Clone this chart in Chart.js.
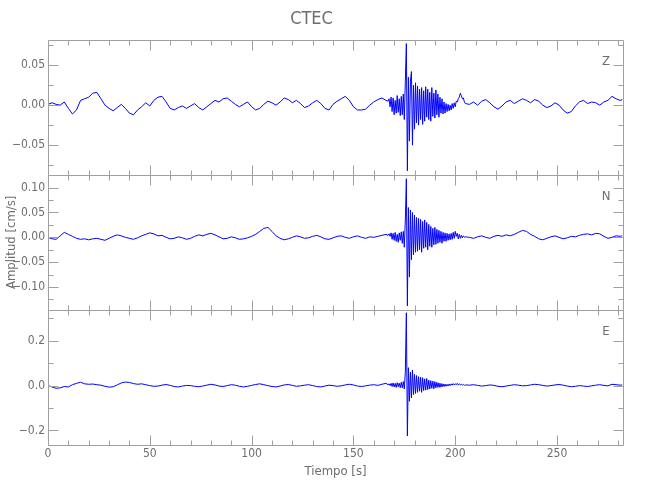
<!DOCTYPE html>
<html>
<head>
<meta charset="utf-8">
<script src="https://cdn.jsdelivr.net/npm/chart.js@4"></script>
<style>
  html, body { margin: 0; background: #fff; }
  #wrap { width: 650px; height: 500px; }
</style>
</head>
<body>
<div id="wrap"><canvas id="sismo"></canvas></div>
<script>
// tiempo [s]: cada 2 s antes y despues del evento, cada 0.5 s durante el evento
const tiempo = [
  0, 2, 4, 6, 8, 10, 12, 14, 16, 18,
  20, 22, 24, 26, 28, 30, 32, 34, 36, 38,
  40, 42, 44, 46, 48, 50, 52, 54, 56, 58,
  60, 62, 64, 66, 68, 70, 72, 74, 76, 78,
  80, 82, 84, 86, 88, 90, 92, 94, 96, 98,
  100, 102, 104, 106, 108, 110, 112, 114, 116, 118,
  120, 122, 124, 126, 128, 130, 132, 134, 136, 138,
  140, 142, 144, 146, 148, 150, 152, 154, 156, 158,
  160, 162, 164, 166,
  167, 167.5, 168, 168.5, 169, 169.5, 170, 170.5, 171, 171.5,
  172, 172.5, 173, 173.5, 174, 174.5, 175, 175.5, 176, 176.5,
  177, 177.5, 178, 178.5, 179, 179.5, 180, 180.5, 181, 181.5,
  182, 182.5, 183, 183.5, 184, 184.5, 185, 185.5, 186, 186.5,
  187, 187.5, 188, 188.5, 189, 189.5, 190, 190.5, 191, 191.5,
  192, 192.5, 193, 193.5, 194, 194.5, 195, 195.5, 196, 196.5,
  197, 197.5, 198, 198.5, 199, 199.5, 200, 200.5, 201, 201.5,
  202, 202.5, 203, 203.5, 204, 204.5, 205,
  207, 209, 211, 213, 215, 217, 219, 221, 223, 225,
  227, 229, 231, 233, 235, 237, 239, 241, 243, 245,
  247, 249, 251, 253, 255, 257, 259, 261, 263, 265,
  267, 269, 271, 273, 275, 277, 279, 281,
  282
];

// componente vertical Z [cm/s]
const compZ = [
  0.001, 0.003, 0.001, 0.000, 0.004, -0.004, -0.011, -0.006, 0.006, 0.008,
  0.010, 0.015, 0.016, 0.008, 0.000, -0.004, -0.007, -0.003, 0.001, -0.004,
  -0.010, -0.012, -0.006, -0.002, 0.003, -0.001, 0.006, 0.010, 0.011, 0.004,
  -0.004, -0.006, -0.003, -0.001, -0.004, -0.001, 0.002, -0.003, -0.006, -0.002,
  0.002, 0.006, 0.004, 0.008, 0.009, 0.005, 0.001, -0.002, 0.001, 0.004,
  -0.002, -0.006, -0.004, 0.001, 0.005, 0.003, 0.000, 0.004, 0.009, 0.007,
  0.003, 0.006, 0.002, -0.003, -0.001, 0.003, 0.006, 0.002, -0.004, -0.006,
  0.001, 0.005, 0.008, 0.011, 0.006, -0.002, -0.006, -0.006, -0.005, 0.000,
  0.004, 0.007, 0.009, 0.006,
  0.005, 0.008, -0.002, 0.010, -0.008, 0.009, -0.012, 0.006, -0.010, 0.012,
  -0.009, 0.008, -0.013, 0.011, -0.012, 0.014, -0.018, 0.030, 0.077, -0.082,
  0.035, -0.045, 0.030, 0.042, -0.050, 0.025, -0.030, 0.028, -0.022, 0.024,
  -0.025, 0.020, -0.018, 0.022, -0.024, 0.018, -0.020, 0.023, -0.015, 0.020,
  -0.018, 0.016, -0.020, 0.022, -0.014, 0.015, -0.016, 0.019, -0.012, 0.014,
  -0.015, 0.010, -0.010, 0.008, -0.011, 0.004, -0.010, 0.002, -0.008, 0.001,
  -0.007, 0.000, -0.006, 0.002, -0.004, 0.003, -0.002, 0.005, 0.004, 0.008,
  0.010, 0.015, 0.012, 0.008, 0.009, 0.004, 0.002,
  0.001, 0.004, 0.000, 0.005, 0.007, 0.003, -0.002, -0.005, -0.001, 0.004,
  0.006, 0.002, 0.005, 0.008, 0.006, 0.003, 0.007, 0.005, 0.000, -0.003,
  -0.001, 0.003, 0.000, -0.006, -0.010, -0.008, -0.001, 0.004, 0.006, 0.002,
  0.004, 0.003, 0.000, 0.004, 0.006, 0.011, 0.008, 0.006,
  0.007
];

// componente norte N [cm/s]
const compN = [
  0.000, -0.003, -0.004, 0.003, 0.010, 0.006, 0.002, -0.002, -0.004, -0.003,
  -0.005, -0.003, -0.002, -0.004, -0.006, -0.002, 0.002, 0.005, 0.003, 0.000,
  -0.002, -0.004, -0.001, 0.003, 0.006, 0.009, 0.007, 0.003, 0.004, 0.000,
  -0.003, -0.002, 0.001, -0.001, -0.004, -0.002, 0.002, 0.005, 0.003, 0.006,
  0.008, 0.005, 0.001, -0.003, -0.002, 0.001, -0.001, -0.004, -0.003, -0.001,
  0.002, 0.006, 0.012, 0.018, 0.020, 0.012, 0.003, -0.002, -0.005, -0.003,
  0.000, 0.003, 0.001, -0.002, -0.001, 0.002, 0.004, 0.001, -0.003, -0.004,
  -0.001, 0.002, 0.003, 0.000, -0.002, 0.001, 0.003, 0.000, -0.002, 0.001,
  0.000, 0.002, 0.004, 0.006,
  0.004, 0.007, 0.002, 0.009, -0.004, 0.008, -0.006, 0.010, -0.008, 0.006,
  -0.010, 0.009, -0.006, 0.011, -0.012, 0.012, -0.020, 0.035, 0.118, -0.138,
  0.060, -0.080, 0.055, -0.045, 0.050, -0.035, 0.045, -0.030, 0.040, -0.028,
  0.038, -0.025, 0.036, -0.030, 0.032, -0.022, 0.035, -0.020, 0.030, -0.025,
  0.026, -0.018, 0.022, -0.020, 0.018, -0.015, 0.020, -0.014, 0.016, -0.012,
  0.014, -0.010, 0.012, -0.012, 0.010, -0.008, 0.009, -0.008, 0.008, -0.006,
  0.007, -0.005, 0.008, -0.004, 0.010, -0.002, 0.012, 0.002, 0.008, -0.003,
  0.006, -0.002, 0.004, -0.001, 0.003, 0.000, 0.001,
  0.000, -0.002, 0.001, 0.003, 0.000, -0.002, 0.002, 0.004, 0.002, 0.005,
  0.003, 0.006, 0.010, 0.014, 0.012, 0.006, 0.002, -0.003, -0.005, -0.002,
  0.001, 0.003, 0.000, -0.003, -0.001, 0.002, 0.001, 0.004, 0.006, 0.007,
  0.005, 0.008, 0.007, 0.002, -0.002, 0.000, 0.003, 0.002,
  0.003
];

// componente este E [cm/s]
const compE = [
  0.000, -0.006, -0.012, -0.010, -0.004, -0.006, 0.004, 0.010, 0.015, 0.008,
  0.006, 0.007, 0.004, 0.002, -0.003, -0.007, -0.005, 0.003, 0.012, 0.016,
  0.014, 0.009, 0.006, 0.008, 0.004, 0.000, -0.003, -0.002, 0.002, 0.005,
  0.001, -0.004, -0.006, -0.002, 0.001, 0.000, -0.003, -0.005, -0.002, 0.002,
  0.006, 0.003, -0.002, -0.004, 0.000, 0.004, 0.002, -0.003, -0.006, -0.003,
  0.001, 0.005, 0.008, 0.004, 0.000, -0.004, -0.006, -0.002, 0.003, 0.005,
  0.001, -0.003, -0.001, 0.002, 0.004, 0.000, -0.004, -0.006, -0.002, 0.002,
  0.000, -0.003, -0.001, 0.003, 0.006, 0.003, -0.002, -0.004, -0.001, 0.002,
  0.004, 0.001, 0.006, 0.010,
  0.004, 0.008, 0.000, 0.010, -0.004, 0.012, -0.006, 0.010, -0.008, 0.013,
  -0.005, 0.011, -0.009, 0.015, -0.010, 0.018, -0.015, 0.060, 0.325, -0.225,
  0.080, -0.070, 0.060, -0.055, 0.070, -0.040, 0.050, -0.035, 0.045, -0.030,
  0.040, -0.025, 0.038, -0.030, 0.035, -0.022, 0.030, -0.020, 0.032, -0.018,
  0.025, -0.015, 0.022, -0.012, 0.020, -0.014, 0.018, -0.010, 0.015, -0.008,
  0.012, -0.008, 0.010, -0.006, 0.008, -0.004, 0.007, -0.003, 0.006, -0.002,
  0.007, 0.000, 0.008, 0.002, 0.009, 0.003, 0.008, 0.004, 0.010, 0.003,
  0.007, 0.004, 0.006, 0.002, 0.005, 0.001, 0.003,
  0.002, 0.004, 0.001, -0.002, 0.000, 0.003, 0.001, -0.003, -0.005, -0.002,
  0.001, 0.004, 0.002, -0.001, 0.000, 0.003, 0.006, 0.004, 0.001, -0.002,
  0.000, 0.003, 0.005, 0.002, -0.002, -0.005, -0.003, 0.000, -0.002, -0.004,
  -0.001, 0.002, 0.004, 0.001, -0.001, 0.006, 0.004, 0.002,
  0.003
];

const canales = ['Z', 'N', 'E'];
const ejes = ['yZ', 'yN', 'yE'];

const gris = '#a0a0a0';
const textoGris = '#6e6e6e';
const fuente = "'Liberation Sans Narrow', 'DejaVu Sans Condensed', sans-serif";

// etiqueta solo en los multiplos de "paso"
function etiqueta(paso, dec) {
  return v => {
    if (Math.abs(v / paso - Math.round(v / paso)) > 1e-6) return '';
    if (Math.abs(v) < 1e-9) v = 0;
    return (v < 0 ? '\u2212' : '') + Math.abs(v).toFixed(dec);
  };
}

function ejeY(min, max, paso, etq, titulo) {
  return {
    type: 'linear',
    position: 'left',
    stack: 'sismo',
    stackWeight: 1,
    min: min,
    max: max,
    grid: { display: false, drawTicks: false },
    border: { display: false },
    ticks: {
      stepSize: paso,
      includeBounds: false,
      autoSkip: false,
      padding: 3,
      color: textoGris,
      font: { family: fuente, size: 12 },
      callback: etq
    },
    title: titulo ? {
      display: true,
      text: titulo,
      color: textoGris,
      font: { family: fuente, size: 13 },
      padding: { top: 4, bottom: 0 }
    } : { display: false },
    afterFit: s => { s.width = 48; }
  };
}

// marcos de cada panel, ticks hacia dentro y nombre del canal
const marco = {
  id: 'marco',
  afterDatasetsDraw(chart) {
    const { ctx, chartArea: a, scales } = chart;
    const x = scales.x;
    ctx.save();
    ctx.strokeStyle = gris;
    ctx.lineWidth = 1;
    ctx.beginPath();
    ejes.forEach(id => {
      const s = scales[id];
      const top = Math.round(s.top) + 0.5;
      const bot = Math.round(s.bottom) + 0.5;
      const l = Math.round(a.left) + 0.5;
      const r = Math.round(a.right) + 0.5;
      ctx.rect(l, top, r - l, bot - top);
      s.ticks.forEach(t => {
        const y = Math.round(s.getPixelForValue(t.value)) + 0.5;
        const L = t.label ? 10 : 5;
        ctx.moveTo(l, y); ctx.lineTo(l + L, y);
        ctx.moveTo(r, y); ctx.lineTo(r - L, y);
      });
      x.ticks.forEach(t => {
        const px = Math.round(x.getPixelForValue(t.value)) + 0.5;
        const L = t.label ? 10 : 5;
        ctx.moveTo(px, top); ctx.lineTo(px, top + L);
        ctx.moveTo(px, bot); ctx.lineTo(px, bot - L);
      });
    });
    ctx.stroke();
    ctx.fillStyle = textoGris;
    ctx.font = '13px ' + fuente;
    ctx.textAlign = 'center';
    ctx.textBaseline = 'middle';
    canales.forEach((c, i) => {
      ctx.fillText(c, a.right - 17, scales[ejes[i]].top + 22);
    });
    ctx.restore();
  }
};

const serie = (valores, eje) => ({
  data: tiempo.map((t, i) => ({ x: t, y: valores[i] })),
  yAxisID: eje,
  borderColor: '#0000ff',
  borderWidth: 1,
  pointRadius: 0,
  tension: 0,
  fill: false
});

new Chart(document.getElementById('sismo'), {
  type: 'line',
  data: {
    datasets: [
      serie(compZ, 'yZ'),
      serie(compN, 'yN'),
      serie(compE, 'yE')
    ]
  },
  options: {
    responsive: true,
    maintainAspectRatio: false,
    animation: false,
    layout: { padding: { left: 0, right: 27, top: 0, bottom: 0 } },
    plugins: {
      legend: { display: false },
      tooltip: { enabled: false },
      title: {
        display: true,
        text: 'CTEC',
        color: textoGris,
        font: { family: fuente, size: 18, weight: 'normal' },
        padding: { top: 9, bottom: 9 }
      }
    },
    scales: {
      x: {
        type: 'linear',
        min: 0,
        max: 282.4,
        grid: { display: false, drawTicks: false },
        border: { display: false },
        ticks: {
          stepSize: 10,
          includeBounds: false,
          autoSkip: false,
          maxRotation: 0,
          padding: 2,
          color: textoGris,
          font: { family: fuente, size: 12 },
          callback: v => (Math.abs(v % 50) < 1e-6 ? String(v) : '')
        },
        title: {
          display: true,
          text: 'Tiempo [s]',
          color: textoGris,
          font: { family: fuente, size: 13 },
          padding: { top: 0, bottom: 21 }
        },
        afterFit: s => { s.height = 55; }
      },
      // en la pila de ejes el primero queda abajo
      yE: ejeY(-0.265, 0.338, 0.1, etiqueta(0.2, 1)),
      yN: ejeY(-0.146, 0.126, 0.025, etiqueta(0.05, 2), 'Amplitud [cm/s]'),
      yZ: ejeY(-0.087, 0.082, 0.025, etiqueta(0.05, 2))
    }
  },
  plugins: [marco]
});
</script>
</body>
</html>
